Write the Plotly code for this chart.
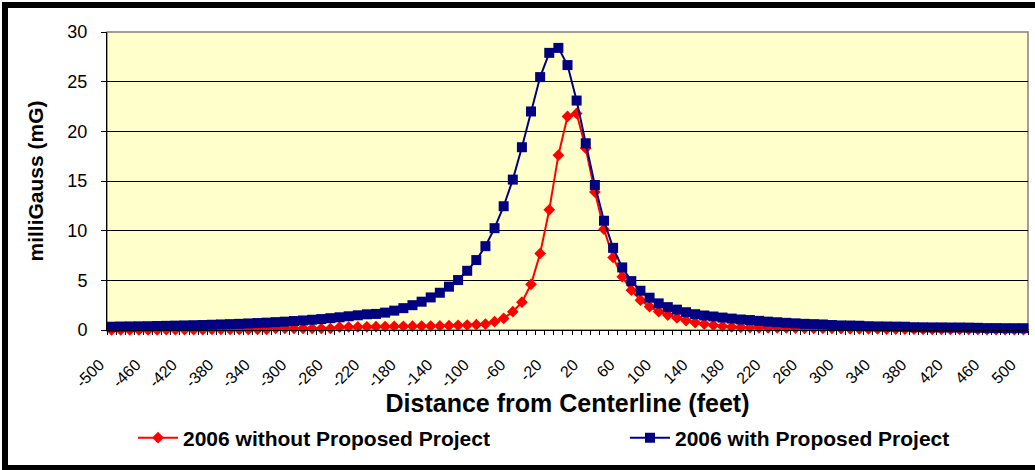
import plotly.graph_objects as go

distance = list(range(-500, 501, 10))

without_project = [
    0.0, 0.0, 0.0, 0.0, 0.0, 0.0,
    0.03, 0.03, 0.03, 0.03, 0.03,
    0.06, 0.06, 0.06, 0.06, 0.06, 0.06, 0.06,
    0.15, 0.15, 0.15, 0.15, 0.15, 0.15, 0.15,
    0.28, 0.30, 0.31, 0.32, 0.33, 0.34, 0.36, 0.38, 0.39, 0.40, 0.40, 0.41,
    0.44, 0.47, 0.50, 0.54, 0.60, 0.84, 1.17, 1.84, 2.8, 4.6, 7.7, 12.1, 17.6,
    21.5, 21.8, 18.3, 13.9, 10.15, 7.3, 5.36, 4.0, 3.0, 2.35, 1.84, 1.5, 1.22,
    0.95, 0.75, 0.60, 0.48, 0.38, 0.30, 0.27, 0.24,
    0.22, 0.21, 0.20, 0.20, 0.19,
    0.17, 0.16, 0.15, 0.15, 0.14,
    0.12, 0.11, 0.10, 0.10, 0.09, 0.09, 0.08, 0.08, 0.07, 0.07,
    0.06, 0.06, 0.05, 0.05, 0.05, 0.04, 0.04, 0.04, 0.03, 0.03,
]

with_project = [
    0.33, 0.35, 0.36, 0.37, 0.38, 0.40, 0.42, 0.44, 0.46, 0.48,
    0.50, 0.53, 0.56, 0.59, 0.62, 0.66, 0.70, 0.74, 0.79, 0.84,
    0.90, 0.96, 1.03, 1.10, 1.19, 1.28, 1.38, 1.48, 1.58, 1.62,
    1.75, 1.95, 2.2, 2.5, 2.85, 3.28, 3.75, 4.36, 5.03, 5.96,
    7.04, 8.44, 10.25, 12.46, 15.14, 18.4, 22.0, 25.46, 27.9, 28.4,
    26.67, 23.1, 18.8, 14.6, 11.0, 8.27, 6.3, 4.92, 3.95, 3.25,
    2.68, 2.3, 2.05, 1.79, 1.59, 1.46, 1.36, 1.25, 1.15, 1.06,
    1.0, 0.92, 0.84, 0.78, 0.72, 0.67, 0.62, 0.59, 0.56, 0.50,
    0.46, 0.45, 0.43, 0.38, 0.36, 0.35, 0.34, 0.33, 0.28, 0.27,
    0.26, 0.26, 0.25, 0.25, 0.24, 0.22, 0.19, 0.19, 0.18, 0.18,
    0.18,
]

x_tick_vals = list(range(-500, 501, 40))
x_tick_text = [str(v) for v in x_tick_vals]
y_tick_vals = [0, 5, 10, 15, 20, 25, 30]

FONT = "Liberation Sans, Arial, sans-serif"

fig = go.Figure()
fig.add_trace(go.Scatter(
    x=distance, y=without_project, mode="lines+markers",
    name="<b>2006 without Proposed Project</b>",
    line=dict(color="#FF0000", width=2),
    marker=dict(symbol="diamond", size=9, color="#FF0000"),
    cliponaxis=False, legend="legend",
))
fig.add_trace(go.Scatter(
    x=distance, y=with_project, mode="lines+markers",
    name="<b>2006 with Proposed Project</b>",
    line=dict(color="#000080", width=2),
    marker=dict(symbol="square", size=10, color="#000080"),
    cliponaxis=False, legend="legend2",
))

L, R, T, B = 107, 7, 32, 140
W, H = 1035, 470
pw, ph = W - L - R, H - T - B

def px(xp):
    return (xp - L) / pw

def py(yp):
    return (H - B - yp) / ph

shapes = [
    dict(type="rect", xref="paper", yref="paper", x0=0, x1=1, y0=0, y1=1,
         line=dict(color="#808080", width=1.5), layer="below"),
    dict(type="rect", xref="paper", yref="paper", x0=px(2), x1=px(8), y0=py(2), y1=py(470),
         fillcolor="black", line=dict(width=0)),
    dict(type="rect", xref="paper", yref="paper", x0=px(2), x1=px(1035), y0=py(2), y1=py(8),
         fillcolor="black", line=dict(width=0)),
    dict(type="rect", xref="paper", yref="paper", x0=px(2), x1=px(1035), y0=py(465), y1=py(470),
         fillcolor="black", line=dict(width=0)),
]

legend_common = dict(
    orientation="h", xref="container", yref="container", xanchor="left",
    yanchor="middle", y=1 - 438 / H, font=dict(size=21, family=FONT),
    itemwidth=40, bgcolor="rgba(0,0,0,0)",
)

fig.update_layout(
    width=W, height=H,
    margin=dict(l=L, r=R, t=T, b=B, pad=0, autoexpand=False),
    paper_bgcolor="white",
    plot_bgcolor="#FFFFCC",
    font=dict(family=FONT, color="black"),
    shapes=shapes,
    showlegend=True,
    legend=dict(x=133 / W, **legend_common),
    legend2=dict(x=625 / W, **legend_common),
    xaxis=dict(
        range=[-505, 505], showgrid=False, zeroline=False, automargin=False,
        tickmode="array", tickvals=x_tick_vals, ticktext=x_tick_text,
        tickangle=-45, tickfont=dict(size=16, family=FONT),
        ticklabelstandoff=18, ticklabelshift=-12,
        ticks="", showline=True, linecolor="black", linewidth=1,
        minor=dict(tickmode="linear", tick0=-505, dtick=10, ticks="outside",
                   ticklen=4, tickcolor="black", showgrid=False),
        title=dict(text="<b>Distance from Centerline (feet)</b>",
                   font=dict(size=25, family=FONT), standoff=2),
    ),
    yaxis=dict(
        range=[0, 30], tickmode="array", tickvals=y_tick_vals, automargin=False,
        showgrid=True, gridcolor="black", gridwidth=1, zeroline=False,
        ticks="outside", ticklen=5, tickcolor="black",
        showline=True, linecolor="black", linewidth=1,
        tickfont=dict(size=18, family=FONT), ticklabelstandoff=10,
        title=dict(text="<b>milliGauss (mG)</b>", font=dict(size=21, family=FONT), standoff=18),
    ),
)

fig.write_html("out.html", config={"displayModeBar": False},
               post_script="document.body.style.margin='0';")
